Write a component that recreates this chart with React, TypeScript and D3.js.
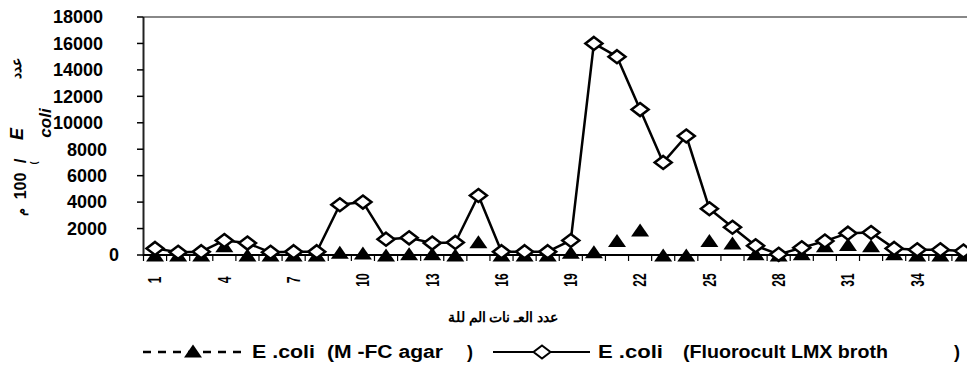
import * as d3 from 'd3'

const categories = [
  1, 2, 3, 4, 5, 6, 7, 8, 9, 10, 11, 12, 13, 14, 15, 16, 17, 18,
  19, 20, 21, 22, 23, 24, 25, 26, 27, 28, 29, 30, 31, 32, 33, 34, 35, 36,
]
const xTickLabels = ['1', '4', '7', '10', '13', '16', '19', '22', '25', '28', '31', '34']
const yTicks = [0, 2000, 4000, 6000, 8000, 10000, 12000, 14000, 16000, 18000]

// E.coli (M-FC agar)
const mfcAgar = [
  0, 0, 0, 700, 0, 0, 0, 0, 200, 150, 0, 100, 100, 0, 1000, 0, 0, 0,
  200, 250, 1100, 1900, 0, 0, 1100, 900, 100, 0, 100, 700, 800, 700, 100, 0, 0, 0,
]
// E.coli (Fluorocult LMX broth)
const lmxBroth = [
  500, 200, 250, 1100, 900, 200, 250, 250, 3800, 4000, 1200, 1300, 900, 950, 4500, 250, 250, 250,
  1100, 16000, 15000, 11000, 7000, 9000, 3500, 2100, 700, 50, 550, 1050, 1650, 1700, 500, 400, 400, 300,
]

const W = 967
const H = 367
const FONT = '"Liberation Sans", Arial, sans-serif'

const triPath = 'M0,-6.5L9,6.5L-9,6.5Z'
const diaPath = 'M0,-6.5L8.5,0L0,6.5L-8.5,0Z'

export default function App() {
  const x = d3
    .scaleBand()
    .domain(categories.map(String))
    .range([143.5, 975])
    .padding(0)
  const y = d3.scaleLinear().domain([0, 18000]).range([255, 17])
  const bw = x.bandwidth()
  const cx = (i) => x(String(categories[i])) + bw / 2

  const line = d3
    .line()
    .x((d, i) => cx(i))
    .y((d) => y(d))

  const boundaries = categories.map((c) => x(String(c))).concat([x(String(categories[categories.length - 1])) + bw])

  return (
    <svg
      width={W}
      height={H}
      style={{ position: 'absolute', left: 0, top: 0, background: '#fff' }}
      fontFamily={FONT}
      fontWeight="bold"
    >
      {/* plot border top */}
      <line x1={143.5} x2={W} y1={17} y2={17} stroke="#888" strokeWidth={2} />

      {/* y axis */}
      <line x1={143.5} x2={143.5} y1={17} y2={256} stroke="#222" strokeWidth={2} />
      {yTicks.map((t) => {
        const lab = String(t)
        return (
          <g key={t}>
            <line x1={137} x2={143.5} y1={y(t)} y2={y(t)} stroke="#000" strokeWidth={1.5} />
            <text
              x={123 - 4 * lab.length}
              y={y(t)}
              dy="0.35em"
              textAnchor="end"
              fontSize={18}
            >
              {lab}
            </text>
          </g>
        )
      })}

      {/* x axis */}
      <line x1={143.5} x2={W} y1={255} y2={255} stroke="#000" strokeWidth={2} />
      {boundaries.map((b, i) => (
        <line key={i} x1={b} x2={b} y1={255} y2={261} stroke="#000" strokeWidth={1.2} />
      ))}
      {xTickLabels.map((lab) => (
        <text
          key={lab}
          transform={`translate(${x(lab) + bw / 2},280) rotate(-90) scale(0.67,1)`}
          textAnchor="middle"
          dy="0.35em"
          fontSize={18}
        >
          {lab}
        </text>
      ))}

      {/* axis titles */}
      <text x={503} y={322} textAnchor="middle" fontSize={14}>
        عدد العـ نات الم للة
      </text>
      <text transform="translate(16,68) rotate(-90)" textAnchor="middle" dy="0.35em" fontSize={14}>
        عدد
      </text>
      <text transform="translate(17,134) rotate(-90)" textAnchor="middle" dy="0.35em" fontSize={18} fontStyle="italic">
        E
      </text>
      <text transform="translate(45,123) rotate(-90)" textAnchor="middle" dy="0.35em" fontSize={17} fontStyle="italic">
        coli
      </text>
      <text transform="translate(20,161) rotate(-90)" textAnchor="middle" dy="0.35em" fontSize={17}>
        /
      </text>
      <text transform="translate(34,163) rotate(-90)" textAnchor="middle" dy="0.35em" fontSize={9}>
        (
      </text>
      <text transform="translate(20,186) rotate(-90)" textAnchor="middle" dy="0.35em" fontSize={16}>
        100
      </text>
      <text transform="translate(20,212) rotate(-90)" textAnchor="middle" dy="0.35em" fontSize={13}>
        م
      </text>

      {/* M-FC agar markers */}
      {mfcAgar.map((v, i) => (
        <path key={'t' + i} d={triPath} transform={`translate(${cx(i)},${y(v)})`} fill="#000" />
      ))}

      {/* Fluorocult LMX broth */}
      <path d={line(lmxBroth)} fill="none" stroke="#000" strokeWidth={2.5} strokeLinejoin="round" />
      {lmxBroth.map((v, i) => (
        <path
          key={'d' + i}
          d={diaPath}
          transform={`translate(${cx(i)},${y(v)})`}
          fill="#fff"
          stroke="#000"
          strokeWidth={2.5}
        />
      ))}

      {/* legend */}
      <g fontSize={18}>
        <line x1={143} x2={246} y1={352} y2={352} stroke="#000" strokeWidth={2.5} strokeDasharray="8 7" />
        <path d={triPath} transform="translate(193,351)" fill="#000" />
        <text x={252} y={358} textLength={63} lengthAdjust="spacingAndGlyphs">E .coli</text>
        <text x={327} y={358} textLength={116} lengthAdjust="spacingAndGlyphs">(M -FC agar</text>
        <text x={467} y={358}>)</text>

        <line x1={493} x2={590} y1={352} y2={352} stroke="#000" strokeWidth={2} />
        <path d={diaPath} transform="translate(542,352)" fill="#fff" stroke="#000" strokeWidth={2} />
        <text x={598} y={358} textLength={65} lengthAdjust="spacingAndGlyphs">E .coli</text>
        <text x={683} y={358} textLength={205} lengthAdjust="spacingAndGlyphs">(Fluorocult LMX broth</text>
        <text x={954} y={358}>)</text>
      </g>
    </svg>
  )
}
